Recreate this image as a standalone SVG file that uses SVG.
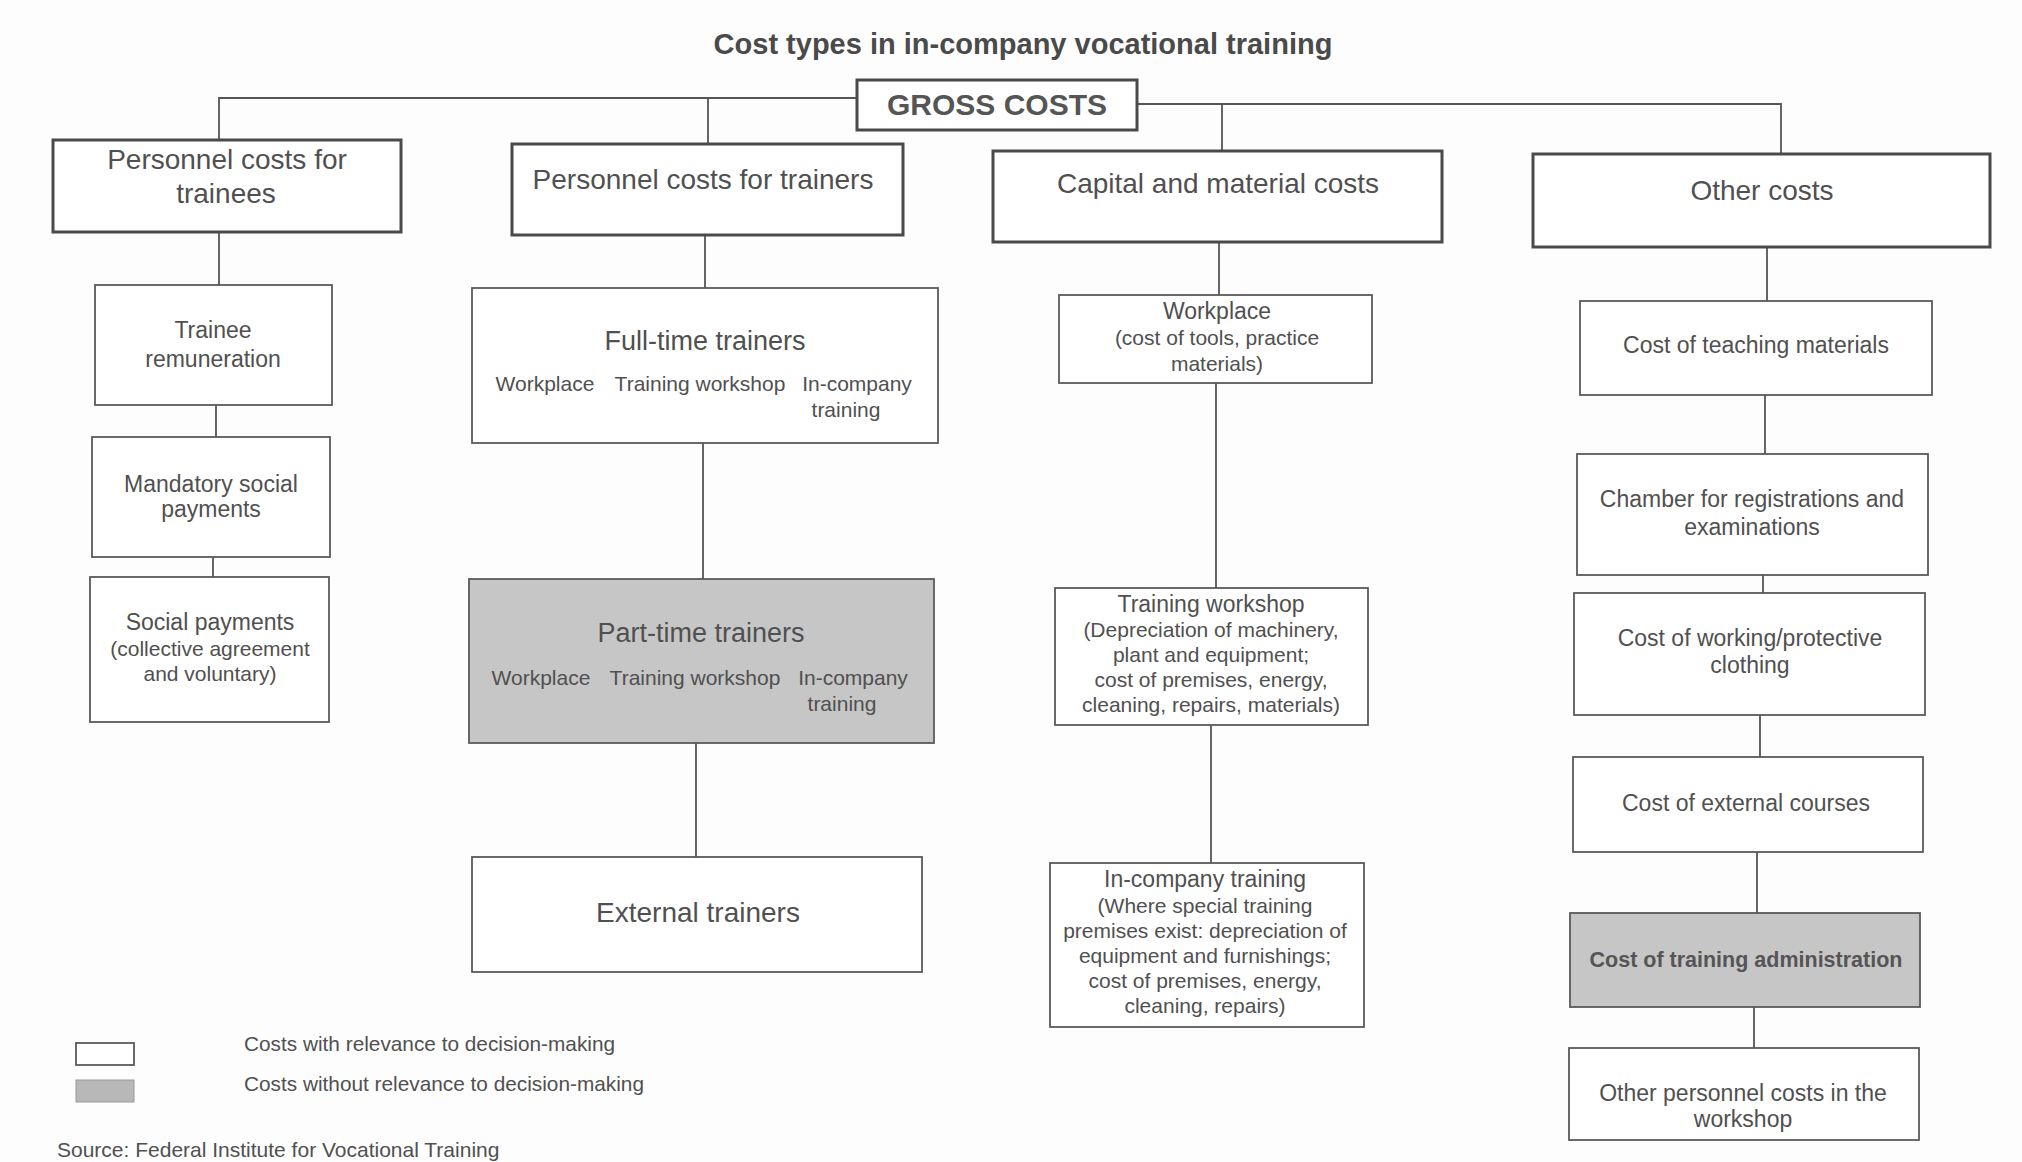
<svg xmlns="http://www.w3.org/2000/svg" width="2022" height="1162" viewBox="0 0 2022 1162">
<style>
text{font-family:"Liberation Sans",Arial,sans-serif;fill:#505050;text-anchor:middle}
.title{font-size:29px;font-weight:bold;fill:#4a4a4a}
.gross{font-size:30px;font-weight:bold;fill:#555}
.top{font-size:28px}
.h{font-size:23px}
.s{font-size:21px}
.m{font-size:27px}
.lg{font-size:20.8px;text-anchor:start}
.src{font-size:21px;text-anchor:start}
.tb{fill:#fff;stroke:#4a4a4a;stroke-width:3}
.b{fill:#fff;stroke:#5a5a5a;stroke-width:1.8}
.g{fill:#c6c6c6;stroke:#5a5a5a;stroke-width:1.8}
.c{fill:none;stroke:#555;stroke-width:1.8}
</style>
<rect width="2022" height="1162" fill="#fdfdfd"/>
<text class="title" x="1023" y="54">Cost types in in-company vocational training</text>

<g id="connectors">
<path class="c" d="M219 140 V98 H857"/>
<path class="c" d="M708 98 V144"/>
<path class="c" d="M1137 104 H1781 V154"/>
<path class="c" d="M1222 104 V151"/>
<path class="c" d="M219 232 V285"/>
<path class="c" d="M216 405 V437"/>
<path class="c" d="M213 557 V577"/>
<path class="c" d="M705 235 V288"/>
<path class="c" d="M703 443 V579"/>
<path class="c" d="M696 743 V857"/>
<path class="c" d="M1219 242 V295"/>
<path class="c" d="M1216 383 V588"/>
<path class="c" d="M1211 725 V863"/>
<path class="c" d="M1767 247 V301"/>
<path class="c" d="M1765 395 V454"/>
<path class="c" d="M1763 575 V593"/>
<path class="c" d="M1760 715 V757"/>
<path class="c" d="M1757 852 V913"/>
<path class="c" d="M1754 1007 V1048"/>
</g>

<g id="gross">
<rect class="tb" x="857" y="80" width="280" height="50"/>
<text class="gross" x="997" y="115">GROSS COSTS</text>
</g>

<g id="personnel-trainees">
<rect class="tb" x="53" y="140" width="348" height="92"/>
<text class="top" x="227" y="169">Personnel costs for</text>
<text class="top" x="226" y="203">trainees</text>
</g>
<g id="personnel-trainers">
<rect class="tb" x="512" y="144" width="391" height="91"/>
<text class="top" x="703" y="189">Personnel costs for trainers</text>
</g>
<g id="capital">
<rect class="tb" x="993" y="151" width="449" height="91"/>
<text class="top" x="1218" y="193">Capital and material costs</text>
</g>
<g id="other">
<rect class="tb" x="1533" y="154" width="457" height="93"/>
<text class="top" x="1762" y="200">Other costs</text>
</g>

<g id="trainee-remuneration">
<rect class="b" x="95" y="285" width="237" height="120"/>
<text class="h" x="213" y="338">Trainee</text>
<text class="h" x="213" y="367">remuneration</text>
</g>
<g id="mandatory-social">
<rect class="b" x="92" y="437" width="238" height="120"/>
<text class="h" x="211" y="492">Mandatory social</text>
<text class="h" x="211" y="517">payments</text>
</g>
<g id="social-payments">
<rect class="b" x="90" y="577" width="239" height="145"/>
<text class="h" x="210" y="630">Social payments</text>
<text class="s" x="210" y="656">(collective agreement</text>
<text class="s" x="210" y="681">and voluntary)</text>
</g>

<g id="full-time">
<rect class="b" x="472" y="288" width="466" height="155"/>
<text class="m" x="705" y="350">Full-time trainers</text>
<text class="s" x="545" y="391">Workplace</text>
<text class="s" x="700" y="391">Training workshop</text>
<text class="s" x="857" y="391">In-company</text>
<text class="s" x="846" y="417">training</text>
</g>
<g id="part-time">
<rect class="g" x="469" y="579" width="465" height="164"/>
<text class="m" x="701" y="642">Part-time trainers</text>
<text class="s" x="541" y="685">Workplace</text>
<text class="s" x="695" y="685">Training workshop</text>
<text class="s" x="853" y="685">In-company</text>
<text class="s" x="842" y="711">training</text>
</g>
<g id="external-trainers">
<rect class="b" x="472" y="857" width="450" height="115"/>
<text class="top" x="698" y="922">External trainers</text>
</g>

<g id="workplace">
<rect class="b" x="1059" y="295" width="313" height="88"/>
<text class="h" x="1217" y="319">Workplace</text>
<text class="s" x="1217" y="345">(cost of tools, practice</text>
<text class="s" x="1217" y="371">materials)</text>
</g>
<g id="training-workshop">
<rect class="b" x="1055" y="588" width="313" height="137"/>
<text class="h" x="1211" y="612">Training workshop</text>
<text class="s" x="1211" y="637">(Depreciation of machinery,</text>
<text class="s" x="1211" y="662">plant and equipment;</text>
<text class="s" x="1211" y="687">cost of premises, energy,</text>
<text class="s" x="1211" y="712">cleaning, repairs, materials)</text>
</g>
<g id="in-company">
<rect class="b" x="1050" y="863" width="314" height="164"/>
<text class="h" x="1205" y="887">In-company training</text>
<text class="s" x="1205" y="913">(Where special training</text>
<text class="s" x="1205" y="938">premises exist: depreciation of</text>
<text class="s" x="1205" y="963">equipment and furnishings;</text>
<text class="s" x="1205" y="988">cost of premises, energy,</text>
<text class="s" x="1205" y="1013">cleaning, repairs)</text>
</g>

<g id="teaching-materials">
<rect class="b" x="1580" y="301" width="352" height="94"/>
<text class="h" x="1756" y="353">Cost of teaching materials</text>
</g>
<g id="chamber">
<rect class="b" x="1577" y="454" width="351" height="121"/>
<text class="h" x="1752" y="507">Chamber for registrations and</text>
<text class="h" x="1752" y="535">examinations</text>
</g>
<g id="clothing">
<rect class="b" x="1574" y="593" width="351" height="122"/>
<text class="h" x="1750" y="646">Cost of working/protective</text>
<text class="h" x="1750" y="673">clothing</text>
</g>
<g id="external-courses">
<rect class="b" x="1573" y="757" width="350" height="95"/>
<text class="h" x="1746" y="811">Cost of external courses</text>
</g>
<g id="administration">
<rect class="g" x="1570" y="913" width="350" height="94"/>
<text x="1746" y="967" style="font-size:21.5px;font-weight:bold;fill:#555">Cost of training administration</text>
</g>
<g id="other-personnel">
<rect class="b" x="1569" y="1048" width="350" height="92"/>
<text class="h" x="1743" y="1101">Other personnel costs in the</text>
<text class="h" x="1743" y="1127">workshop</text>
</g>

<g id="legend">
<rect class="b" x="76" y="1043" width="58" height="22"/>
<rect x="76" y="1080" width="58" height="22" fill="#b8b8b8" stroke="#999" stroke-width="1"/>
<text class="lg" x="244" y="1051">Costs with relevance to decision-making</text>
<text class="lg" x="244" y="1091">Costs without relevance to decision-making</text>
</g>
<text class="src" x="57" y="1157">Source: Federal Institute for Vocational Training</text>
</svg>
